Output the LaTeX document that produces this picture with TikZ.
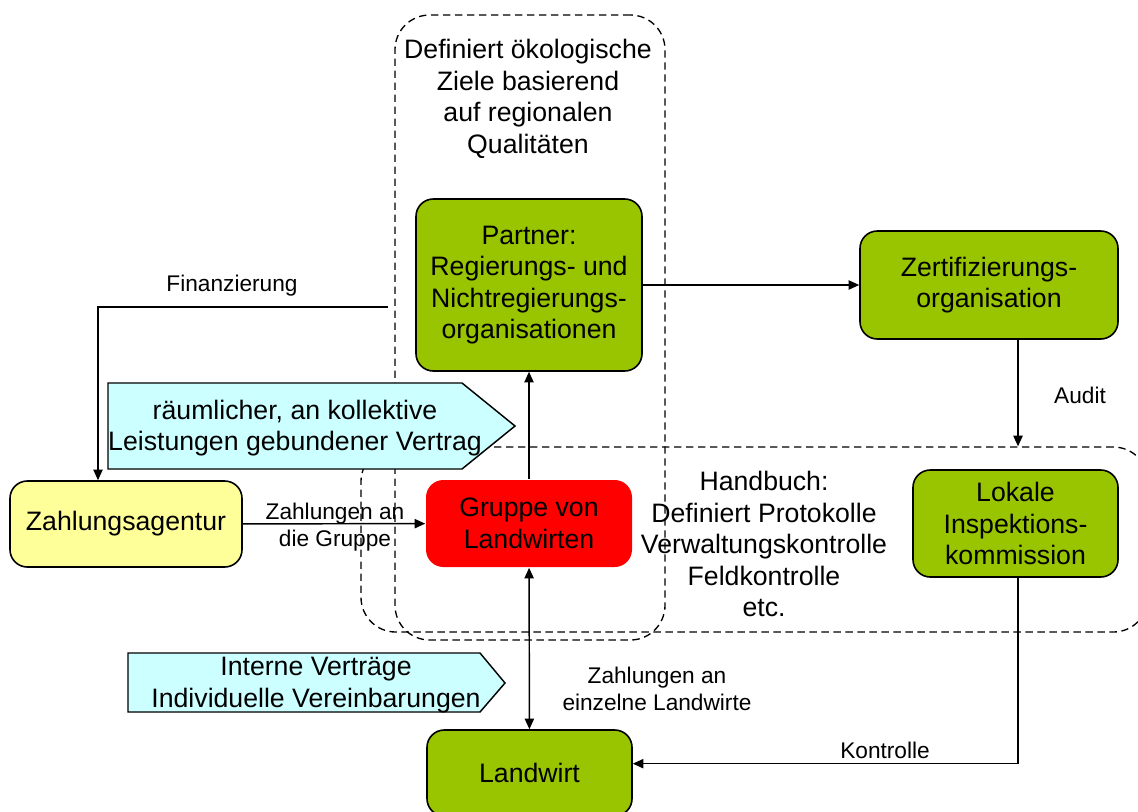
\documentclass[tikz,border=0pt]{standalone}
\usepackage{fontspec}
\setmainfont{Liberation Sans}
\usetikzlibrary{arrows.meta}

\definecolor{leaf}{RGB}{153,196,0}
\definecolor{paleyellow}{RGB}{255,255,153}
\definecolor{palecyan}{RGB}{204,255,255}

\newcommand\boxtext{\fontsize{20}{23.6}\selectfont}
\newcommand\lbltext{\fontsize{17}{20.25}\selectfont}

\tikzset{
  box/.style={draw=black, line width=1.2pt, rounded corners=13pt, inner sep=0pt,
              align=center, font=\boxtext},
  greenbox/.style={box, fill=leaf},
  dashbox/.style={draw=black, line width=1pt, dash pattern=on 5.5pt off 3.5pt,
                  rounded corners=26pt, inner sep=0pt},
  signbox/.style={draw=black, line width=1.1pt, fill=palecyan},
  conn/.style={line width=1.1pt, -{Triangle[length=8pt,width=7pt]}},
  biconn/.style={line width=1.1pt, {Triangle[length=8pt,width=7pt]}-{Triangle[length=8pt,width=7pt]}},
  bigtext/.style={align=center, font=\boxtext, inner sep=0pt},
  smalltext/.style={align=center, font=\lbltext, inner sep=0pt},
}

\begin{document}
\begin{tikzpicture}[x=0.75pt, y=-0.75pt]
\clip (0,0) rectangle (1138,811);

% dashed frames: goal definition and handbook
\node[dashbox, minimum width=202.5pt, minimum height=468.75pt] (goals) at (530,327.5) {};
\node[dashbox, minimum width=590.25pt, minimum height=138.75pt] (handbook) at (754.5,539.5) {};

% contract signs
\draw[signbox] (108,383) -- (462,383) -- (515,426) -- (462,469) -- (108,469) -- cycle;
\node[bigtext] (contract) at (295,428) {räumlicher, an kollektive\\Leistungen gebundener Vertrag};
\draw[signbox] (128,653) -- (480,653) -- (505,683) -- (480,712) -- (128,712) -- cycle;
\node[bigtext] (internal) at (316,685) {Interne Verträge\\Individuelle Vereinbarungen};

% texts inside the frames
\node[bigtext] (goaltext) at (528,99) {Definiert ökologische\\Ziele basierend\\auf regionalen\\Qualitäten};
\node[bigtext] (handtext) at (764,544) {Handbuch:\\Definiert Protokolle\\Verwaltungskontrolle\\Feldkontrolle\\etc.};

% boxes
\node[greenbox, minimum width=169.5pt, minimum height=129pt] (partner) at (529,285)
  {Partner:\\Regierungs- und\\Nichtregierungs-\\organisationen};
\node[greenbox, minimum width=193.5pt, minimum height=81pt] (zert) at (989,285)
  {Zertifizierungs-\\organisation};
\node[box, fill=paleyellow, minimum width=174pt, minimum height=64.5pt] (zahl) at (126,524)
  {Zahlungsagentur};
\node[box, draw=none, fill=red, minimum width=154.5pt, minimum height=65.25pt] (gruppe) at (529,523.5)
  {Gruppe von\\Landwirten};
\node[greenbox, minimum width=153.75pt, minimum height=80.25pt] (lokal) at (1015.5,523.5)
  {Lokale\\Inspektions-\\kommission};
\node[greenbox, minimum width=153.75pt, minimum height=64.5pt] (landwirt) at (529.5,773)
  {Landwirt};

% connectors
\coordinate (finstart) at (388,307);
\draw[conn] (partner) -- (zert);
\draw[conn] (zert.south -| 1018,0) -- (handbook.north -| 1018,0);
\draw[conn] (lokal.south -| 1018,0) |- ([yshift=7pt]landwirt.east);
\draw[conn] (gruppe) -- (partner);
\draw[biconn] (gruppe) -- (landwirt);
\draw[conn] (zahl) -- (gruppe);
\draw[conn] (finstart) -| (zahl.north -| 98,0);

% connector labels
\node[smalltext] (finlbl) at (232,286) {Finanzierung};
\node[smalltext] (auditlbl) at (1080,395) {Audit};
\node[smalltext] (kontrlbl) at (885,750) {Kontrolle};
\node[smalltext] (grplbl) at (335,527) {Zahlungen an\\die Gruppe};
\node[smalltext] (einzlbl) at (657,689) {Zahlungen an\\einzelne Landwirte};
\end{tikzpicture}
\end{document}
